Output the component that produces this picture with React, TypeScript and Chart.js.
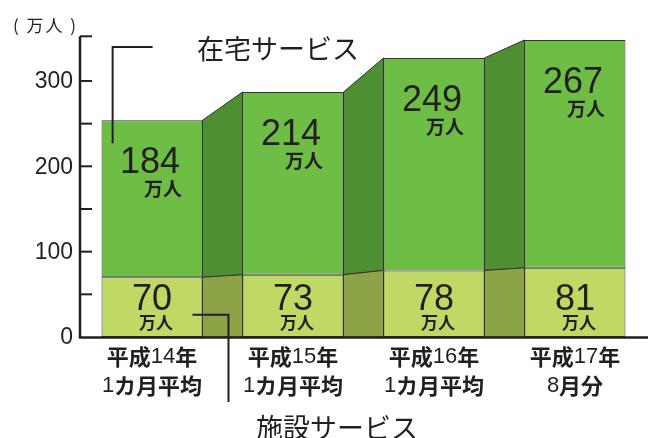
import React, { useEffect, useRef } from "react";
import { Chart, registerables } from "chart.js";

Chart.register(...registerables);

// ---- data ----
const categoryLine1 = ["平成14年", "平成15年", "平成16年", "平成17年"];
const categoryLine2 = ["1カ月平均", "1カ月平均", "1カ月平均", "8月分"];
const facilityValues = [70, 73, 78, 81]; // 施設サービス
const homeValues = [184, 214, 249, 267]; // 在宅サービス
const yTickLabels = [0, 100, 200, 300];
const yMax = 350;
const yTickStep = 50;
const unitLabel = "万人";
const yTitle = "( 万人 )";
const homeLabel = "在宅サービス";
const facilityLabel = "施設サービス";

// ---- styles ----
const TEXT = "#231f20";
const HOME = "#6ebe45";
const FACILITY = "#bfd964";
const HOME_LINK = "#4e8f34";
const FACILITY_LINK = "#8ca447";
const OUTLINE = "#333333";
const CJK = '"Noto Sans CJK JP"';
const LATIN = '"Liberation Sans", Arial';

function drawMixed(ctx: CanvasRenderingContext2D, text: string, cx: number, cy: number, size: number) {
  const segs = text.match(/[0-9]+|[^0-9]+/g) || [];
  const fontFor = (s: string) => (/^[0-9]/.test(s) ? `${size}px ${LATIN}` : `bold ${size}px ${CJK}`);
  let total = 0;
  const widths = segs.map((s) => {
    ctx.font = fontFor(s);
    const w = ctx.measureText(s).width;
    total += w;
    return w;
  });
  let x = cx - total / 2;
  ctx.textAlign = "left";
  ctx.textBaseline = "middle";
  segs.forEach((s, i) => {
    ctx.font = fontFor(s);
    ctx.fillText(s, x, cy);
    x += widths[i];
  });
}

const customPlugin = {
  id: "custom",
  beforeDatasetsDraw(chart: any) {
    const ctx: CanvasRenderingContext2D = chart.ctx;
    const low = chart.getDatasetMeta(0).data;
    const high = chart.getDatasetMeta(1).data;
    const y0 = chart.scales.y.getPixelForValue(0);
    ctx.save();
    ctx.lineWidth = 1;
    ctx.strokeStyle = OUTLINE;
    for (let i = 0; i < low.length - 1; i++) {
      const a = low[i], b = low[i + 1];
      const ha = high[i], hb = high[i + 1];
      const xr = a.x + a.width / 2;
      const xl = b.x - b.width / 2;
      // top link
      ctx.beginPath();
      ctx.moveTo(xr, ha.y);
      ctx.lineTo(xl, hb.y);
      ctx.lineTo(xl, b.y);
      ctx.lineTo(xr, a.y);
      ctx.closePath();
      ctx.fillStyle = HOME_LINK;
      ctx.fill();
      ctx.stroke();
      // bottom link
      ctx.beginPath();
      ctx.moveTo(xr, a.y);
      ctx.lineTo(xl, b.y);
      ctx.lineTo(xl, y0);
      ctx.lineTo(xr, y0);
      ctx.closePath();
      ctx.fillStyle = FACILITY_LINK;
      ctx.fill();
      ctx.stroke();
    }
    ctx.restore();
  },
  afterDraw(chart: any) {
    const ctx: CanvasRenderingContext2D = chart.ctx;
    const ys = chart.scales.y;
    const area = chart.chartArea;
    const axisX = area.left - 1.5;
    const y0 = ys.getPixelForValue(0);
    const yTop = ys.getPixelForValue(yMax);
    ctx.save();
    ctx.strokeStyle = TEXT;
    ctx.fillStyle = TEXT;

    // y axis line
    ctx.lineWidth = 2.5;
    ctx.beginPath();
    ctx.moveTo(axisX, yTop - 2);
    ctx.lineTo(axisX, y0 + 1);
    ctx.stroke();
    // x axis line
    ctx.beginPath();
    ctx.moveTo(axisX - 1, y0 + 0.5);
    ctx.lineTo(chart.width, y0 + 0.5);
    ctx.stroke();
    // inward ticks
    ctx.lineWidth = 2;
    for (let v = yTickStep; v <= yMax; v += yTickStep) {
      const y = ys.getPixelForValue(v);
      ctx.beginPath();
      ctx.moveTo(axisX, v === yMax ? y - 2 : y);
      ctx.lineTo(axisX + 12, v === yMax ? y - 2 : y);
      ctx.stroke();
    }
    // y tick labels
    ctx.font = `23px ${LATIN}`;
    ctx.textAlign = "right";
    ctx.textBaseline = "middle";
    yTickLabels.forEach((v) => {
      ctx.fillText(String(v), axisX - 7, ys.getPixelForValue(v) + 1);
    });
    // y title
    ctx.font = `17px ${CJK}`;
    ctx.textAlign = "left";
    (ctx as any).letterSpacing = "2px";
    ctx.fillText(yTitle, 13, 26);
    (ctx as any).letterSpacing = "0px";

    const low = chart.getDatasetMeta(0).data;
    const high = chart.getDatasetMeta(1).data;

    // value labels
    low.forEach((bar: any, i: number) => {
      const cx = bar.x - 2;
      // top segment
      const top = high[i].y;
      ctx.font = `36px ${LATIN}`;
      ctx.textAlign = "center";
      ctx.textBaseline = "middle";
      const t1 = String(homeValues[i]);
      const w1 = ctx.measureText(t1).width;
      ctx.fillText(t1, cx, top + 43);
      ctx.font = `bold 19px ${CJK}`;
      ctx.textAlign = "right";
      ctx.fillText(unitLabel, cx + w1 / 2 + 2, top + 69);
      // bottom segment
      ctx.font = `36px ${LATIN}`;
      ctx.textAlign = "center";
      const t2 = String(facilityValues[i]);
      const w2 = ctx.measureText(t2).width;
      ctx.fillText(t2, bar.x, ys.getPixelForValue(45) + 1);
      ctx.font = `bold 17px ${CJK}`;
      ctx.textAlign = "right";
      ctx.fillText(unitLabel, bar.x + w2 / 2 + 1, ys.getPixelForValue(16.5));
      // category labels
      drawMixed(ctx, categoryLine1[i], bar.x, y0 + 20, 22);
      drawMixed(ctx, categoryLine2[i], bar.x, y0 + 49, 22);
    });

    // annotations with leader lines
    const b0 = low[0];
    ctx.lineWidth = 2;
    const lx1 = b0.x - b0.width * 0.39;
    ctx.beginPath();
    ctx.moveTo(lx1 + 40, 47);
    ctx.lineTo(lx1, 47);
    ctx.lineTo(lx1, high[0].y + 23);
    ctx.stroke();
    ctx.font = `27px ${CJK}`;
    ctx.textAlign = "left";
    ctx.textBaseline = "middle";
    ctx.fillText(homeLabel, 197, 49);

    const lx2 = b0.x + b0.width / 2 + 26;
    const ly2 = ys.getPixelForValue(26);
    ctx.beginPath();
    ctx.moveTo(lx2 - 36, ly2);
    ctx.lineTo(lx2, ly2);
    ctx.lineTo(lx2, y0 + 65);
    ctx.stroke();
    ctx.fillText(facilityLabel, 256, 428);
    ctx.restore();
  },
};

export default function App() {
  const ref = useRef<HTMLCanvasElement | null>(null);
  useEffect(() => {
    if (!ref.current) return;
    const chart = new Chart(ref.current, {
      type: "bar",
      data: {
        labels: categoryLine1,
        datasets: [
          {
            label: facilityLabel,
            data: facilityValues,
            backgroundColor: FACILITY,
            borderColor: OUTLINE,
            borderWidth: 1,
            borderSkipped: false,
          },
          {
            label: homeLabel,
            data: homeValues,
            backgroundColor: HOME,
            borderColor: OUTLINE,
            borderWidth: 1,
            borderSkipped: false,
          },
        ],
      },
      options: {
        responsive: false,
        animation: false,
        layout: { padding: { left: 81.5, right: 2.5, top: 38.3, bottom: 101 } },
        plugins: { legend: { display: false }, tooltip: { enabled: false } },
        datasets: { bar: { categoryPercentage: 1, barPercentage: 0.716 } },
        scales: {
          x: { stacked: true, display: false, offset: true },
          y: { stacked: true, display: false, min: 0, max: yMax },
        },
      },
      plugins: [customPlugin],
    } as any);
    return () => chart.destroy();
  }, []);
  return (
    <div style={{ position: "absolute", left: 0, top: 0, width: 648, height: 438, background: "#fff" }}>
      <canvas ref={ref} width={648} height={438} style={{ display: "block" }} />
    </div>
  );
}
